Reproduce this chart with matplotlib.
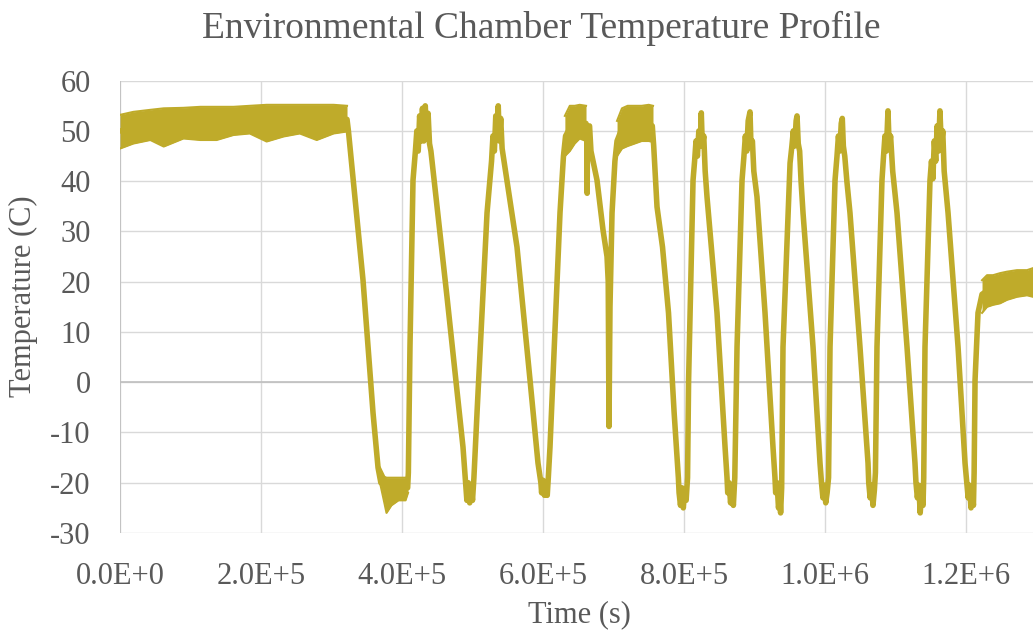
import numpy as np
import matplotlib
matplotlib.use("Agg")
import matplotlib.pyplot as plt
from matplotlib.ticker import FuncFormatter

# Temperature trace (time in kilo-seconds, temperature in C)
trace_t_ks = [0, 60, 120, 200, 300, 322,
              324, 344.7, 358.9, 366, 370, 390, 408,
              409, 411.3, 415.6, 419, 421, 423, 425, 427, 429, 431, 433, 435, 437, 439, 441,
              463.8, 486.5, 490, 492, 494, 496, 498, 500, 502,
              506.4, 520.6, 527, 529, 531, 533, 535, 536.5, 538, 540, 542,
              563.1, 581.6, 592.9, 597, 598, 600, 602, 604, 606, 607.5,
              609.9, 624.1, 629, 632, 640, 650, 661, 662, 662.6, 663.2, 666,
              668, 676.6, 685.1, 690.8, 692.5, 693.6, 695, 697.9, 702, 705,
              712, 730, 750, 755,
              757, 761.7, 769.5, 778, 786, 792,
              793, 795, 797, 799, 801, 803, 805,
              806.5, 812.8, 815, 817, 819, 821, 823, 824.5, 826, 828, 830,
              832.6, 846.8, 858.2, 861, 862, 864, 866, 868, 870, 872,
              875.2, 882.3, 885, 887, 889, 891, 893.6, 895, 897, 899,
              903.5, 914.9, 926.2, 929, 930, 932, 934, 936, 937, 938.5,
              940.4, 950.4, 953, 955, 957, 959, 960.3, 962, 964, 966,
              968.8, 983.0, 992.9, 995, 997, 999, 1001, 1003, 1005,
              1007.1, 1014.2, 1017, 1019, 1021, 1023, 1024.5, 1026, 1028, 1031,
              1035.4, 1049.6, 1061.0, 1062, 1064, 1066, 1068, 1070, 1071.5,
              1073.7, 1080.8, 1083, 1085, 1087, 1089.3, 1091, 1093, 1096,
              1102.1, 1116.3, 1127.6, 1129, 1131, 1133, 1135, 1137, 1139, 1140,
              1141.8, 1148.9, 1151, 1153, 1155, 1157, 1159, 1161, 1163, 1165, 1167, 1169,
              1174.5, 1188.7, 1198.6, 1201, 1203, 1205, 1207, 1209, 1210.5, 1211.5,
              1212.8, 1217, 1222.7, 1230, 1240, 1250, 1260, 1272, 1286, 1295]
trace_temp = [50, 51, 51.5, 52.3, 52.5, 52.3,
              50, 20.3, -6.1, -17, -20, -21.5, -21,
              -18, 7, 40.2, 46, 50, 46, 53, 48, 54.5, 48, 55, 48.5, 53.5, 47.5, 46,
              17.0, -12.9, -19.5, -23.5, -20, -24, -20.5, -23.5, -19,
              -6.1, 33.7, 44, 49, 46, 53, 49, 55, 48, 52.5, 46.5,
              26.9, 0.4, -16.1, -20, -22, -19.5, -22.5, -20, -22.5, -19,
              -12.9, 33.7, 45, 49, 51, 51.5, 51.5, 50, 37.6, 50, 51,
              46, 40.2, 30.3, 25, 20, -8.8, 15, 33.7, 44, 48,
              50.5, 51, 51.5, 51,
              47, 34.9, 26.9, 13.8, -6.1, -19,
              -22, -24.5, -21, -25, -21.5, -23.5, -19,
              0.4, 40.2, 44, 48, 45, 50, 47, 53.6, 47, 49, 42,
              36.9, 13.8, -12.9, -19, -22, -20, -24, -21, -24.5, -19,
              7.0, 40.2, 45, 49, 46, 52, 53.8, 47, 48, 42,
              36.9, 13.8, -12.9, -19, -22, -20, -25, -23, -26, -21,
              7.0, 43.6, 47, 50, 47, 52, 53, 47.5, 46, 40,
              33.7, 7.0, -16.1, -20, -23, -20.5, -24, -22, -19,
              7.0, 40.2, 45, 49, 46, 51.5, 52.5, 47, 45, 40,
              33.7, 7.0, -16.1, -20, -23, -20.5, -24.5, -21.5, -18,
              7.0, 40.2, 45, 49, 46, 54, 47, 49, 42,
              33.7, 7.0, -16.1, -20, -23, -20.5, -26, -22, -24.5, -19,
              7.0, 40.2, 44, 40.5, 48, 44, 51, 46, 54, 47, 50, 42,
              33.7, 7.0, -16.1, -20, -23, -20.5, -25, -22, -24.5, -18,
              0.4, 13.8, 17.5, 18.2, 18.5, 18.8, 19.2, 19.7, 19.8, 19.9]

# noisy plateaus: lower / upper envelope of the band
plateau1_t_ks = [0, 19, 43, 62, 90, 114, 137, 161, 184, 208, 232, 255, 279, 303, 322]
plateau1_hi = [53.2, 53.8, 54.2, 54.5, 54.6, 54.8, 54.8, 54.8, 55.0, 55.2, 55.2, 55.2, 55.2, 55.2, 55.0]
plateau1_lo = [46.5, 47.5, 48.2, 46.9, 48.5, 48.2, 48.2, 49.2, 49.5, 47.9, 48.9, 49.5, 48.2, 49.5, 49.9]

trough1_t_ks = [368.8, 375, 378, 385, 395, 405, 408.5]
trough1_hi = [-17, -18.8, -19, -19, -19, -19, -18.8]
trough1_lo = [-20, -24, -26, -24.5, -23.5, -23.5, -22]

plateau2_t_ks = [631, 638, 645, 652, 661]
plateau2_hi = [53, 55, 55, 55.2, 55]
plateau2_lo = [45, 46, 47.5, 48.5, 48]

plateau3_t_ks = [705, 712, 720, 730, 740, 750, 756]
plateau3_hi = [52, 54.5, 55, 55, 55, 55.2, 55]
plateau3_lo = [45, 46.5, 47, 47.5, 48, 48, 47.8]

tail_t_ks = [1222.7, 1229.8, 1238.3, 1248.2, 1258.2, 1272.3, 1286.5, 1295]
tail_hi = [20.3, 21.3, 21.3, 21.7, 22.0, 22.3, 22.3, 22.7]
tail_lo = [13.8, 15.0, 15.4, 15.7, 16.4, 17.0, 17.3, 17.0]

x_ticks = [0, 2e5, 4e5, 6e5, 8e5, 1e6, 1.2e6]
y_ticks = [-30, -20, -10, 0, 10, 20, 30, 40, 50, 60]

line_color = "#BFAB2A"
text_color = "#595959"
grid_color = "#D9D9D9"

plt.rcParams['font.family'] = ['Liberation Serif', 'DejaVu Serif']
plt.rcParams['axes.unicode_minus'] = False

fig = plt.figure(figsize=(10.33, 6.32), dpi=100)
ax = fig.add_axes([120 / 1033, 1 - 533 / 632, 913 / 1033, (533 - 80.7) / 632])

ax.plot(np.array(trace_t_ks) * 1000, trace_temp, color=line_color, lw=4.0,
        solid_joinstyle='round', solid_capstyle='round', zorder=3)

for tt, lo, hi in [(plateau1_t_ks, plateau1_lo, plateau1_hi),
                   (trough1_t_ks, trough1_lo, trough1_hi),
                   (plateau2_t_ks, plateau2_lo, plateau2_hi),
                   (plateau3_t_ks, plateau3_lo, plateau3_hi),
                   (tail_t_ks, tail_lo, tail_hi)]:
    tt = np.array(tt) * 1000
    ax.fill_between(tt, lo, hi, color=line_color, lw=0, zorder=3)
    ax.plot(tt, lo, color=line_color, lw=1.5, zorder=3)
    ax.plot(tt, hi, color=line_color, lw=1.5, zorder=3)

ax.set_xlim(0, 1.295e6)
ax.set_ylim(-30, 60)
ax.set_xticks(x_ticks)
ax.set_yticks(y_ticks)

def sci_fmt(v, pos):
    if v == 0:
        return "0.0E+0"
    e = int(np.floor(np.log10(abs(v))))
    return f"{v / 10**e:.1f}E+{e}"

ax.xaxis.set_major_formatter(FuncFormatter(sci_fmt))

ax.grid(True, color=grid_color, lw=1.0, zorder=0)
ax.axhline(0, color="#BFBFBF", lw=1.2, zorder=1)
ax.axvline(0, color="#BFBFBF", lw=1.2, zorder=1)
ax.set_axisbelow(True)
for s in ax.spines.values():
    s.set_visible(False)

ax.tick_params(axis='both', length=0, labelsize=22, labelcolor=text_color)
ax.tick_params(axis='x', pad=21)
ax.tick_params(axis='y', pad=21)

fig.text(579 / 1033, 1 - 615 / 632, "Time (s)", fontsize=22, color=text_color,
         ha='center', va='center')
fig.text(23 / 1033, 1 - 296 / 632, "Temperature (C)", fontsize=22, color=text_color,
         ha='center', va='center', rotation=90)
fig.text(541.5 / 1033, 1 - 28 / 632, "Environmental Chamber Temperature Profile",
         fontsize=27, color=text_color, ha='center', va='center')

fig.savefig("out.png", dpi=100)
